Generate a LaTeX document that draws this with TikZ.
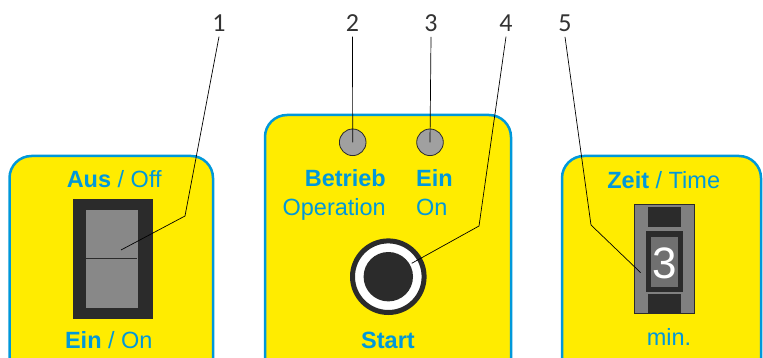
\documentclass[tikz,border=0pt]{standalone}
\usepackage{fontspec}
\setmainfont{Liberation Sans}
\newfontfamily\numfont{Carlito}

\definecolor{panelyellow}{RGB}{255,236,0}
\definecolor{panelblue}{RGB}{0,152,218}
\definecolor{knobdark}{RGB}{43,43,43}
\definecolor{knobgray}{RGB}{136,136,136}
\definecolor{timergray}{RGB}{128,128,128}
\definecolor{displaygray}{RGB}{112,112,112}
\definecolor{ledgray}{RGB}{160,160,160}

\tikzset{
	panel/.style = {fill=panelyellow, draw=panelblue, line width=2.5pt, rounded corners=22pt},
	lbl/.style = {text=panelblue, font=\fontsize{23.5}{25}\selectfont, inner sep=0pt, anchor=base},
	num/.style = {text=black!80, font=\numfont\fontsize{26}{28}\selectfont, inner sep=5pt, anchor=base},
	led/.style = {circle, fill=ledgray, draw=knobdark, line width=0.8pt, minimum size=26.6pt, inner sep=0pt},
	leader/.style = {draw=black, line width=0.7pt},
}

\begin{document}
\begin{tikzpicture}[x=1pt, y=-1pt]
	\useasboundingbox (0, 0) rectangle (763, 358);
	\clip (0, 0) rectangle (763, 358);
	
	% panels
	\draw [panel] (9.5, 156) rectangle (213, 400);
	\draw [panel] (265, 115) rectangle (511, 400);
	\draw [panel] (562, 156) rectangle (761, 400);
	
	% left panel: rocker switch
	\draw [fill=knobdark, draw = knobdark] (72.7, 199.3) rectangle (151.7, 318);
	\draw [fill=knobgray, draw = knobgray] (86, 210.7) rectangle (136.7, 306.7);
	\draw [knobdark, line width=1pt] (86, 258.3) -- (136.7, 258.3);
	\node [lbl, anchor=base] (aus) at (114.2, 187.3) {\textbf{Aus} / Off};
	\node [lbl, anchor=base] (ein) at (108.8, 348.3) {\textbf{Ein} / On};
	
	% middle panel: lamps and start button
	\node [led] (led2) at (352.7, 142.3) {};
	\node [led] (led3) at (430, 142.3) {};
	\node [lbl, anchor=base east] (betrieb) at (386, 186.7) {\textbf{Betrieb}};
	\node [lbl, anchor=base east] (operation) at (386, 215.3) {Operation};
	\node [lbl, anchor=base west] (einlamp) at (416, 186.7) {\textbf{Ein}};
	\node [lbl, anchor=base west] (onlamp) at (416, 215.3) {On};
	\node [circle, fill=white, draw=knobdark, line width=5pt, minimum size=71.6pt, inner sep=0pt] (button) at (388.3, 276.7) {};
	\node [circle, fill=knobdark, minimum size=49.4pt, inner sep=0pt] (knob) at (388.3, 276.7) {};
	\node [lbl, anchor=base] (start) at (388, 348) {\textbf{Start}};
	
	% right panel: timer
	\draw [fill=timergray, draw = knobdark, line width=0.8pt] (634, 204.3) rectangle (694, 313.3);
	\draw [fill=knobdark, draw = knobdark] (647.7, 207.3) rectangle (680, 226.7);
	\draw [fill=knobdark, draw = knobdark] (647.7, 294.3) rectangle (680, 311.7);
	\draw [fill=knobdark, draw = knobdark] (645.7, 231.7) rectangle (682, 290.7);
	\draw [fill=displaygray, draw = displaygray] (651, 237.3) rectangle (676.7, 285.7);
	\node [text=white, font=\fontsize{44}{46}\selectfont, inner sep=0pt, anchor=base] (digit) at (665, 278.3) {3};
	\node [lbl, anchor=base] (zeit) at (663.7, 189) {\textbf{Zeit} / Time};
	\node [lbl, anchor=base] (min) at (669, 345) {min.};
	
	% numbers
	\node [num] (n1) at (219, 31.5) {1};
	\node [num] (n2) at (352.5, 31.5) {2};
	\node [num] (n3) at (431, 31.5) {3};
	\node [num] (n4) at (506, 31.5) {4};
	\node [num] (n5) at (565, 31.5) {5};
	
	% leaders
	\coordinate (b1) at (185, 216);
	\coordinate (t1) at (121, 250);
	\coordinate (b4) at (479, 226);
	\coordinate (t4) at (411.7, 263.3);
	\coordinate (b5) at (591, 225);
	\coordinate (t5) at (640.7, 272.7);
	\draw [leader] (n1.south) -- (b1) -- (t1);
	\draw [leader] (n2.south) -- (led2.center);
	\draw [leader] (n3.south) -- (led3.center);
	\draw [leader] (n4.south) -- (b4) -- (t4);
	\draw [leader] (n5.south) -- (b5) -- (t5);
\end{tikzpicture}
\end{document}
